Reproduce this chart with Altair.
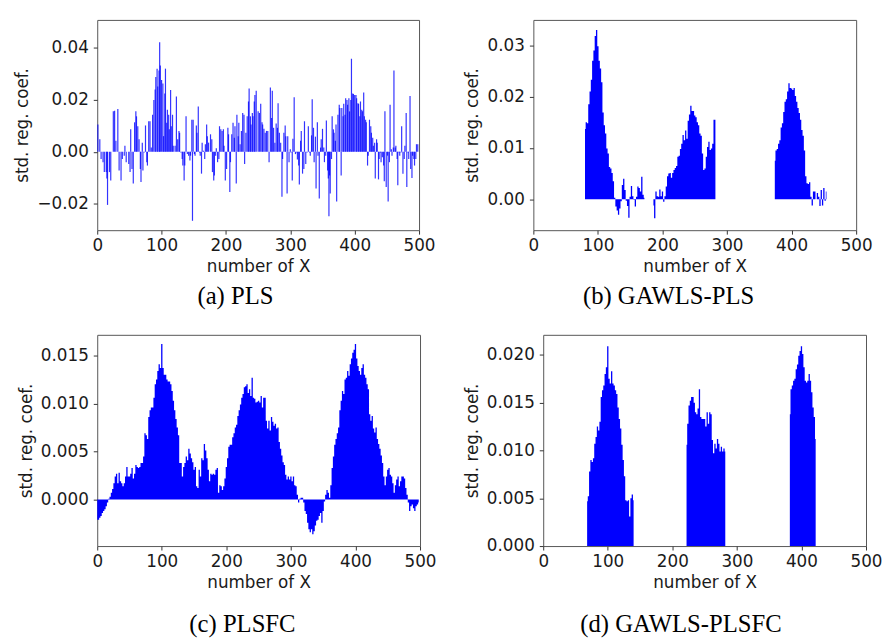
import altair as alt
import pandas as pd

# ---------------- data ----------------
# (a) PLS: variable index and coefficient of the visible spikes
A_IDX = [1, 4, 6, 9, 11, 14, 15, 16, 19, 21, 25, 27, 29, 32, 34, 37, 39, 42, 43, 45,
         49, 51, 52, 54, 56, 58, 60, 61, 63, 65, 67, 68, 70, 71, 73, 75, 77, 78, 80, 82,
         84, 86, 88, 90, 91, 93, 94, 96, 97, 98, 100, 102, 103, 105, 106, 108, 109, 111, 112, 114,
         115, 117, 118, 121, 123, 125, 127, 128, 130, 132, 133, 135, 136, 138, 140, 142, 144, 145, 147, 148,
         149, 151, 152, 154, 155, 157, 159, 160, 162, 163, 165, 167, 168, 170, 171, 173, 176, 178, 179, 181,
         182, 184, 185, 187, 189, 190, 192, 194, 196, 197, 199, 201, 203, 204, 206, 207, 209, 211, 213, 214,
         216, 217, 219, 220, 222, 224, 226, 228, 229, 231, 233, 235, 236, 238, 239, 241, 242, 244, 245, 247,
         250, 252, 254, 256, 257, 259, 261, 263, 265, 267, 269, 271, 272, 274, 276, 278, 280, 281, 283, 285,
         287, 288, 290, 292, 293, 295, 296, 298, 300, 301, 303, 304, 306, 308, 310, 311, 313, 314, 316, 317,
         319, 321, 322, 324, 326, 328, 330, 331, 333, 334, 336, 337, 339, 340, 342, 343, 345, 347, 348, 350,
         352, 353, 355, 356, 358, 359, 360, 361, 362, 364, 365, 367, 368, 370, 371, 372, 374, 376, 377, 379,
         380, 382, 383, 385, 386, 388, 389, 391, 392, 394, 395, 397, 398, 400, 402, 403, 405, 406, 408, 409,
         411, 412, 414, 415, 417, 418, 420, 421, 423, 425, 426, 428, 429, 431, 432, 434, 435, 437, 438, 440,
         441, 443, 445, 446, 447, 449, 451, 452, 454, 455, 457, 458, 460, 461, 463, 464, 466, 467, 469, 470,
         472, 473, 475, 477, 478, 480, 481, 483, 484, 486, 487, 489, 490, 492, 493, 495, 496, 498]
A_VAL = [0.0105, 0.0048, -0.0028, -0.0040, -0.0078, -0.0078, -0.0103, -0.0204, -0.0078, -0.0110,
         0.0155, 0.0157, 0.0042, 0.0164, -0.0072, -0.0110, -0.0028, -0.0015, 0.0023, -0.0040,
         -0.0047, -0.0078, 0.0086, -0.0066, -0.0122, 0.0113, 0.0155, 0.0136, 0.0098, 0.0048,
         -0.0066, -0.0116, 0.0035, -0.0072, -0.0003, 0.0101, -0.0040, -0.0053, 0.0117, 0.0117,
         0.0016, 0.0142, 0.0199, 0.0239, 0.0287, 0.0319, 0.0250, 0.0312, 0.0420, 0.0331,
         0.0275, 0.0262, 0.0060, 0.0224, 0.0319, 0.0111, 0.0161, 0.0142, 0.0086, 0.0237,
         0.0098, 0.0142, 0.0023, 0.0023, 0.0212, 0.0048, 0.0080, 0.0073, -0.0003, -0.0028,
         -0.0053, -0.0110, -0.0053, 0.0136, -0.0009, -0.0015, -0.0034, -0.0015, 0.0123, -0.0265,
         0.0123, -0.0009, -0.0015, 0.0101, 0.0073, 0.0174, -0.0003, -0.0015, -0.0084, 0.0035,
         0.0004, -0.0028, 0.0029, 0.0105, 0.0060, 0.0035, 0.0067, 0.0048, -0.0078, -0.0110,
         -0.0091, -0.0015, 0.0013, -0.0040, -0.0028, 0.0098, 0.0086, 0.0080, 0.0086, 0.0023,
         -0.0110, -0.0066, 0.0092, 0.0067, -0.0154, -0.0040, 0.0067, 0.0111, 0.0054, 0.0098,
         -0.0122, 0.0142, 0.0060, 0.0111, 0.0029, 0.0080, 0.0149, 0.0142, -0.0047, 0.0073,
         0.0136, 0.0193, 0.0243, 0.0136, 0.0105, 0.0149, 0.0136, 0.0193, 0.0218, 0.0234,
         0.0155, 0.0149, 0.0184, 0.0113, 0.0105, 0.0088, 0.0073, 0.0080, 0.0080, -0.0040,
         0.0247, 0.0130, 0.0234, 0.0092, 0.0035, 0.0108, 0.0092, 0.0186, 0.0073, 0.0035,
         -0.0173, -0.0028, 0.0073, 0.0101, 0.0060, -0.0160, 0.0060, -0.0040, 0.0010, -0.0003,
         -0.0110, 0.0050, 0.0209, -0.0009, -0.0003, -0.0030, -0.0053, -0.0126, 0.0042, 0.0080,
         -0.0084, -0.0066, 0.0117, -0.0047, -0.0003, 0.0098, -0.0003, -0.0015, 0.0063, 0.0202,
         0.0092, -0.0040, 0.0058, -0.0141, 0.0113, -0.0015, -0.0179, 0.0016, 0.0048, 0.0088,
         0.0016, -0.0040, -0.0015, 0.0120, -0.0072, -0.0103, -0.0248, -0.0091, -0.0160, -0.0028,
         0.0136, 0.0086, 0.0073, 0.0042, 0.0105, -0.0191, 0.0142, 0.0180, 0.0168, -0.0091,
         0.0168, 0.0136, 0.0184, 0.0142, 0.0205, 0.0199, 0.0180, 0.0205, 0.0155, 0.0199,
         0.0357, 0.0224, 0.0222, 0.0218, 0.0218, 0.0205, 0.0186, 0.0184, 0.0136, 0.0193,
         0.0161, 0.0155, 0.0227, 0.0136, 0.0123, 0.0113, -0.0053, -0.0015, 0.0123, 0.0098,
         0.0073, 0.0054, 0.0023, 0.0035, -0.0103, 0.0048, 0.0035, -0.0106, -0.0028, -0.0003,
         -0.0040, -0.0021, -0.0053, -0.0113, 0.0155, -0.0135, -0.0015, -0.0191, -0.0040, 0.0180,
         0.0010, -0.0015, 0.0016, 0.0312, 0.0016, 0.0023, -0.0028, -0.0129, -0.0003, -0.0015,
         -0.0003, 0.0098, -0.0084, -0.0028, 0.0023, 0.0149, -0.0135, -0.0003, -0.0028, 0.0214,
         -0.0066, -0.0101, -0.0015, -0.0028, -0.0053, -0.0028, 0.0029, 0.0029]

# (b) GAWLS-PLS: selected segments, one value every 2 variables
B1_START = 80
B1_VAL = [0.0137, 0.0150, 0.0148, 0.0185, 0.0210, 0.0233, 0.0270, 0.0290, 0.0318, 0.0330,
          0.0298, 0.0270, 0.0255, 0.0228, 0.0169, 0.0144, 0.0128, 0.0099, 0.0089, 0.0063,
          0.0060, 0.0051, 0.0035, 0.0003, -0.0014, -0.0022, -0.0030, -0.0018, -0.0004, 0.0028,
          0.0040, 0.0018, -0.0003, -0.0013, -0.0036, 0.0005, 0.0026, 0.0006, -0.0001, -0.0014,
          0.0005, 0.0025, 0.0022, 0.0015, 0.0044, 0.0009, 0.0003]
B2_START = 186
B2_VAL = [-0.0012, -0.0037, 0.0015, 0.0006, 0.0005, 0.0019, 0.0006, 0.0015, -0.0005, 0.0006,
          0.0025, 0.0045, 0.0050, 0.0051, 0.0042, 0.0051, 0.0057, 0.0061, 0.0065, 0.0083,
          0.0085, 0.0098, 0.0108, 0.0125, 0.0115, 0.0134, 0.0118, 0.0153, 0.0165, 0.0182,
          0.0172, 0.0172, 0.0163, 0.0160, 0.0150, 0.0144, 0.0128, 0.0124, 0.0089, 0.0057,
          0.0060, 0.0083, 0.0102, 0.0112, 0.0096, 0.0099, 0.0108, 0.0155, 0.0155]
B3_START = 374
B3_VAL = [0.0075, 0.0095, 0.0098, 0.0108, 0.0115, 0.0140, 0.0148, 0.0170, 0.0190, 0.0195,
          0.0210, 0.0226, 0.0217, 0.0216, 0.0213, 0.0217, 0.0201, 0.0190, 0.0178, 0.0168,
          0.0155, 0.0135, 0.0124, 0.0095, 0.0045, 0.0031, 0.0030, 0.0033, 0.0005, -0.0012,
          0.0015, 0.0015, 0.0000, 0.0012, 0.0005, -0.0013, 0.0018, -0.0012, 0.0022, -0.0003,
          0.0015]

# (c) PLSFC: one value every 2 variables, 0..498
C_START = 0
C_VAL = [-0.0021, -0.0021, -0.0019, -0.0017, -0.0014, -0.0012, -0.0010, -0.0007, -0.0003, 0.0001,
         0.0003, 0.0007, 0.0011, 0.0017, 0.0024, 0.0027, 0.0017, 0.0028, 0.0019, 0.0017,
         0.0014, 0.0017, 0.0024, 0.0034, 0.0024, 0.0024, 0.0027, 0.0033, 0.0022, 0.0027,
         0.0036, 0.0034, 0.0033, 0.0034, 0.0038, 0.0038, 0.0045, 0.0069, 0.0067, 0.0063,
         0.0086, 0.0093, 0.0096, 0.0096, 0.0106, 0.0120, 0.0125, 0.0134, 0.0141, 0.0137,
         0.0162, 0.0137, 0.0130, 0.0130, 0.0125, 0.0123, 0.0123, 0.0120, 0.0113, 0.0103,
         0.0093, 0.0084, 0.0075, 0.0067, 0.0038, 0.0038, 0.0024, 0.0034, 0.0038, 0.0045,
         0.0041, 0.0053, 0.0048, 0.0043, 0.0039, 0.0031, 0.0034, 0.0014, 0.0012, 0.0031,
         0.0024, 0.0043, 0.0041, 0.0058, 0.0051, 0.0043, 0.0031, 0.0019, 0.0027, 0.0026,
         0.0027, 0.0026, 0.0031, 0.0033, 0.0007, 0.0015, 0.0014, 0.0010, 0.0014, 0.0022,
         0.0034, 0.0043, 0.0055, 0.0057, 0.0057, 0.0065, 0.0069, 0.0075, 0.0078, 0.0087,
         0.0093, 0.0099, 0.0106, 0.0110, 0.0117, 0.0118, 0.0120, 0.0111, 0.0115, 0.0108,
         0.0127, 0.0106, 0.0105, 0.0101, 0.0102, 0.0103, 0.0101, 0.0108, 0.0096, 0.0106,
         0.0106, 0.0082, 0.0074, 0.0082, 0.0072, 0.0086, 0.0081, 0.0077, 0.0079, 0.0074,
         0.0075, 0.0060, 0.0053, 0.0046, 0.0039, 0.0036, 0.0026, 0.0021, 0.0024, 0.0021,
         0.0024, 0.0019, 0.0024, 0.0015, 0.0014, 0.0005, -0.0003, 0.0001, 0.0002, 0.0002,
         -0.0003, -0.0012, -0.0015, -0.0024, -0.0031, -0.0034, -0.0031, -0.0036, -0.0033, -0.0027,
         -0.0022, -0.0021, -0.0017, -0.0014, -0.0024, -0.0012, -0.0002, 0.0005, 0.0010, 0.0007,
         0.0002, 0.0015, 0.0033, 0.0045, 0.0057, 0.0063, 0.0069, 0.0075, 0.0093, 0.0103,
         0.0113, 0.0110, 0.0125, 0.0127, 0.0134, 0.0129, 0.0141, 0.0147, 0.0153, 0.0156,
         0.0162, 0.0147, 0.0139, 0.0134, 0.0130, 0.0137, 0.0141, 0.0130, 0.0127, 0.0120,
         0.0115, 0.0089, 0.0082, 0.0087, 0.0074, 0.0070, 0.0075, 0.0063, 0.0058, 0.0053,
         0.0046, 0.0038, 0.0024, 0.0015, 0.0024, 0.0031, 0.0033, 0.0026, 0.0024, 0.0017,
         0.0007, 0.0015, 0.0021, 0.0024, 0.0014, 0.0019, 0.0024, 0.0024, 0.0022, 0.0012,
         0.0005, -0.0003, -0.0012, -0.0007, -0.0005, -0.0009, -0.0012, -0.0007, -0.0005, -0.0003]

# (d) GAWLS-PLSFC: selected segments, one value every 2 variables
D1_START = 68
D1_VAL = [0.0047, 0.0052, 0.0078, 0.0090, 0.0088, 0.0092, 0.0107, 0.0114, 0.0125, 0.0121,
          0.0130, 0.0156, 0.0163, 0.0168, 0.0180, 0.0187, 0.0209, 0.0175, 0.0170, 0.0183,
          0.0170, 0.0168, 0.0163, 0.0159, 0.0145, 0.0133, 0.0123, 0.0106, 0.0090, 0.0073,
          0.0048, 0.0047, 0.0048, 0.0031, 0.0050, 0.0054, 0.0048]
D2_START = 222
D2_VAL = [0.0106, 0.0128, 0.0147, 0.0152, 0.0156, 0.0156, 0.0150, 0.0140, 0.0138, 0.0144,
          0.0164, 0.0135, 0.0133, 0.0133, 0.0133, 0.0125, 0.0140, 0.0128, 0.0140, 0.0138,
          0.0111, 0.0097, 0.0107, 0.0102, 0.0112, 0.0107, 0.0099, 0.0104, 0.0099, 0.0102,
          0.0099]
D3_START = 382
D3_VAL = [0.0138, 0.0164, 0.0168, 0.0173, 0.0175, 0.0185, 0.0190, 0.0199, 0.0204, 0.0209,
          0.0201, 0.0187, 0.0173, 0.0171, 0.0173, 0.0180, 0.0173, 0.0161, 0.0145, 0.0135,
          0.0112]

X_TICKS = [0, 100, 200, 300, 400, 500]
CAPTIONS = ["(a) PLS", "(b) GAWLS-PLS", "(c) PLSFC", "(d) GAWLS-PLSFC"]


def segments(*segs):
    idx, val, seg = [], [], []
    for k, (start, values) in enumerate(segs):
        idx += [start + 2 * i for i in range(len(values))]
        val += list(values)
        seg += [k] * len(values)
    return pd.DataFrame({"idx": idx, "coef": val, "seg": seg})


df_a = pd.DataFrame({"idx": A_IDX, "coef": A_VAL})
df_b = segments((B1_START, B1_VAL), (B2_START, B2_VAL), (B3_START, B3_VAL))
df_c = segments((C_START, C_VAL))
df_d = segments((D1_START, D1_VAL), (D2_START, D2_VAL), (D3_START, D3_VAL))

BLUE = "#0000ff"
TXT = "#1a1a1a"


def panel(df, mark, ydom, yticks, yfmt, caption, title_x, cap_dx, cap_off, w, h):
    enc = dict(
        x=alt.X("idx:Q",
                scale=alt.Scale(domain=[0, 500], nice=False, zero=False, padding=0),
                axis=alt.Axis(values=X_TICKS, format="d", title="number of X",
                              labelPadding=4, titlePadding=5)),
        y=alt.Y("coef:Q",
                scale=alt.Scale(domain=ydom, nice=False),
                axis=alt.Axis(values=yticks, format=yfmt, title="std. reg. coef.",
                              labelPadding=5, titleX=title_x, titleY=h / 2,
                              titleBaseline="middle")),
        y2=alt.datum(0),
    )
    if "seg" in df.columns:
        enc["detail"] = alt.Detail("seg:N")
    return alt.Chart(df, mark=mark).encode(**enc).properties(
        width=w, height=h,
        title=alt.TitleParams(caption, orient="bottom", anchor="middle", frame="group",
                              font="Liberation Serif", fontSize=25, fontWeight="normal",
                              color="black", dx=cap_dx, offset=cap_off, baseline="alphabetic"),
    )


BAR_A = alt.MarkDef(type="bar", size=1.2, color=BLUE, opacity=0.8)
AREA = alt.MarkDef(type="area", interpolate="step", color=BLUE, opacity=1.0)

pa = panel(df_a, BAR_A, [-0.0301, 0.0506], [-0.02, 0.0, 0.02, 0.04], ".2f", CAPTIONS[0],
           -75.7, -23, 30, 326, 213)
pb = panel(df_b, AREA, [-0.00602, 0.03494], [0.0, 0.01, 0.02, 0.03], ".2f", CAPTIONS[1],
           -61.7, -26.5, 30, 327, 213)
pc = panel(df_c, AREA, [-0.00484, 0.01716], [0.0, 0.005, 0.010, 0.015], ".3f", CAPTIONS[2],
           -71.7, -16.4, 42, 327, 214)
pd_ = panel(df_d, AREA, [0.0, 0.0221], [0.0, 0.005, 0.010, 0.015, 0.020], ".3f", CAPTIONS[3],
            -71.7, -24, 42, 327, 214)

chart = alt.concat(
    pa, pb, pc, pd_, columns=2, align="none",
    spacing=alt.RowColnumber(row=24, column=25.8),
).properties(
    padding={"left": 12.5, "top": 15, "right": 0, "bottom": 0},
    background="white",
).configure_view(
    stroke="#555555", strokeWidth=1
).configure_axis(
    labelFont="DejaVu Sans", labelFontSize=17, labelColor=TXT,
    titleFont="DejaVu Sans", titleFontSize=17, titleFontWeight="normal", titleColor=TXT,
    tickColor="#333333", tickSize=4, tickWidth=1, domain=False, grid=False,
    labelFlush=False, labelOverlap=False,
)

chart.save("out.html", embed_options={"renderer": "svg", "actions": False})
